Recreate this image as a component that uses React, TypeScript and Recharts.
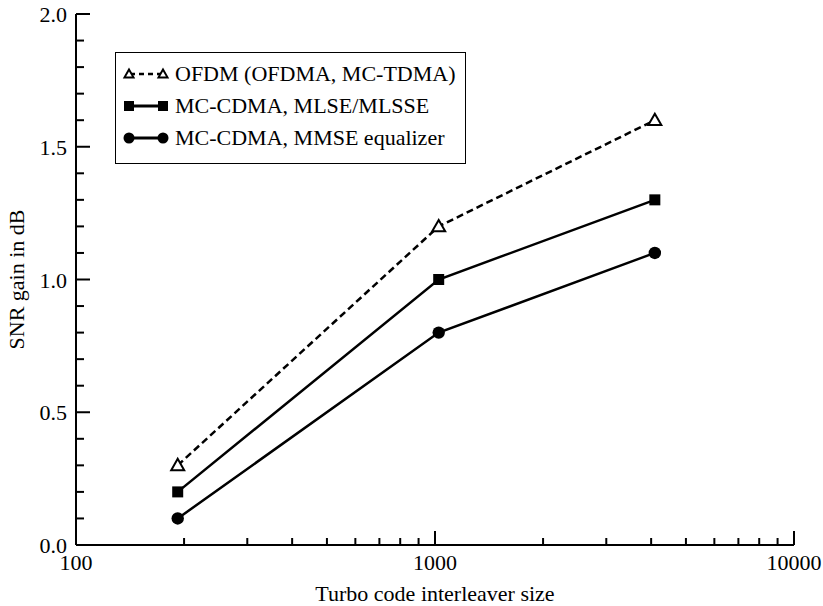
import React from "react";
import { LineChart, Line, XAxis, YAxis, Legend } from "recharts";

// interleaver sizes (x) and SNR gains in dB for each scheme
const sizes = [192, 1024, 4096];
const ofdmGain = [0.3, 1.2, 1.6];
const mlseGain = [0.2, 1.0, 1.3];
const mmseGain = [0.1, 0.8, 1.1];

const seriesNames = [
  "OFDM (OFDMA, MC-TDMA)",
  "MC-CDMA, MLSE/MLSSE",
  "MC-CDMA, MMSE equalizer",
];

const xTicks = [
  100, 200, 300, 400, 500, 600, 700, 800, 900, 1000, 2000, 3000, 4000, 5000,
  6000, 7000, 8000, 9000, 10000,
];
const xMajor = [100, 1000, 10000];
const yTicks = [
  0, 0.1, 0.2, 0.3, 0.4, 0.5, 0.6, 0.7, 0.8, 0.9, 1.0, 1.1, 1.2, 1.3, 1.4, 1.5,
  1.6, 1.7, 1.8, 1.9, 2.0,
];
const yMajor = [0, 0.5, 1.0, 1.5, 2.0];

const data = sizes.map((n, i) => ({
  n,
  ofdm: ofdmGain[i],
  mlse: mlseGain[i],
  mmse: mmseGain[i],
}));

const FONT = "Liberation Serif";
const isYMajor = (v: number) => yMajor.some((m) => Math.abs(m - v) < 1e-6);

const BottomTick = (p: any) => {
  const { x, y, payload } = p;
  const major = xMajor.includes(payload.value);
  return (
    <g>
      <line x1={x} y1={y} x2={x} y2={y - (major ? 14 : 7)} stroke="#000" strokeWidth={2} />
      {major && (
        <text x={x} y={y + 25} textAnchor="middle" fontSize={22} fill="#000" fontFamily={FONT}>
          {payload.value}
        </text>
      )}
    </g>
  );
};

const TopTick = (p: any) => {
  const { x, y, payload } = p;
  const major = xMajor.includes(payload.value);
  return <line x1={x} y1={y} x2={x} y2={y + (major ? 14 : 7)} stroke="#000" strokeWidth={2} />;
};

const LeftTick = (p: any) => {
  const { x, y, payload } = p;
  const major = isYMajor(payload.value);
  return (
    <g>
      <line x1={x} y1={y} x2={x + (major ? 14 : 8)} y2={y} stroke="#000" strokeWidth={2} />
      {major && (
        <text x={x - 9} y={y + 8} textAnchor="end" fontSize={22} fill="#000" fontFamily={FONT}>
          {payload.value.toFixed(1)}
        </text>
      )}
    </g>
  );
};

const RightTick = (p: any) => {
  const { x, y, payload } = p;
  const major = isYMajor(payload.value);
  return <line x1={x} y1={y} x2={x - (major ? 14 : 8)} y2={y} stroke="#000" strokeWidth={2} />;
};

const Triangle = (p: any) => {
  const { cx, cy, s = 6.5 } = p;
  if (cx == null || cy == null) return <g />;
  return (
    <polygon
      points={`${cx},${cy - s} ${cx - s},${cy + s * 0.75} ${cx + s},${cy + s * 0.75}`}
      fill="#fff"
      stroke="#000"
      strokeWidth={2}
      strokeLinejoin="miter"
    />
  );
};

const Square = (p: any) => {
  const { cx, cy, s = 5.5 } = p;
  if (cx == null || cy == null) return <g />;
  return <rect x={cx - s} y={cy - s} width={s * 2} height={s * 2} fill="#000" />;
};

const Dot = (p: any) => {
  const { cx, cy, s = 6.2 } = p;
  if (cx == null || cy == null) return <g />;
  return <circle cx={cx} cy={cy} r={s} fill="#000" />;
};

const xTitle = (p: any) => {
  const { x, y, width } = p.viewBox;
  return (
    <text x={x + width / 2} y={y + 56} textAnchor="middle" fontSize={22} fill="#000" fontFamily={FONT}>
      Turbo code interleaver size
    </text>
  );
};

const yTitle = (p: any) => {
  const { x, y, height } = p.viewBox;
  const cx = x + 24;
  const cy = y + height / 2;
  return (
    <text
      x={cx}
      y={cy}
      transform={`rotate(-90, ${cx}, ${cy})`}
      textAnchor="middle"
      fontSize={22}
      fill="#000"
      fontFamily={FONT}
    >
      SNR gain in dB
    </text>
  );
};

const LegendBox = () => {
  const icons = [
    (a: number) => <Triangle cx={a} cy={16} s={4.5} />,
    (a: number) => <Square cx={a} cy={16} s={5} />,
    (a: number) => <Dot cx={a} cy={16} s={5.5} />,
  ];
  return (
    <div
      style={{
        width: 351,
        height: 112,
        boxSizing: "border-box",
        border: "1.5px solid #000",
        background: "#fff",
        paddingTop: 5,
      }}
    >
      {seriesNames.map((name, i) => (
        <div key={name} style={{ display: "flex", alignItems: "center", height: 32 }}>
          <svg width={59} height={32} style={{ flex: "none" }}>
            <line
              x1={14}
              y1={16}
              x2={47}
              y2={16}
              stroke="#000"
              strokeWidth={i === 0 ? 2.5 : 3}
              strokeDasharray={i === 0 ? "5 4" : undefined}
            />
            {icons[i](13)}
            {icons[i](47)}
          </svg>
          <span
            style={{
              fontFamily: FONT,
              fontSize: 22,
              lineHeight: "32px",
              color: "#000",
              whiteSpace: "nowrap",
            }}
          >
            {name}
          </span>
        </div>
      ))}
    </div>
  );
};

export default function App() {
  return (
    <div style={{ position: "absolute", left: 0, top: 0, background: "#fff", fontFamily: FONT }}>
      <LineChart
        width={823}
        height={606}
        data={data}
        margin={{ top: 14, right: 29, bottom: 0, left: 0 }}
      >
        <XAxis
          xAxisId="b"
          dataKey="n"
          type="number"
          scale="log"
          domain={[100, 10000]}
          allowDataOverflow
          ticks={xTicks}
          interval={0}
          tickSize={0}
          tickMargin={0}
          tick={BottomTick}
          axisLine={{ stroke: "#000", strokeWidth: 2 }}
          height={61}
          label={xTitle}
        />
        <XAxis
          xAxisId="t"
          orientation="top"
          type="number"
          scale="log"
          domain={[100, 10000]}
          allowDataOverflow
          ticks={xTicks}
          interval={0}
          tickSize={0}
          tickMargin={0}
          tick={TopTick}
          axisLine={{ stroke: "#000", strokeWidth: 2 }}
          height={0}
        />
        <YAxis
          yAxisId="l"
          type="number"
          domain={[0, 2]}
          allowDataOverflow
          ticks={yTicks}
          interval={0}
          tickSize={0}
          tickMargin={0}
          tick={LeftTick}
          axisLine={{ stroke: "#000", strokeWidth: 2 }}
          width={76}
          label={yTitle}
        />
        <YAxis
          yAxisId="r"
          orientation="right"
          type="number"
          domain={[0, 2]}
          allowDataOverflow
          ticks={yTicks}
          interval={0}
          tickSize={0}
          tickMargin={0}
          tick={RightTick}
          axisLine={{ stroke: "#000", strokeWidth: 2 }}
          width={0}
        />
        <Legend
          content={LegendBox}
          layout="vertical"
          verticalAlign="middle"
          align="center"
          wrapperStyle={{ left: 115, top: 52, width: 351, height: 112 }}
        />
        <Line
          xAxisId="b"
          yAxisId="l"
          dataKey="ofdm"
          name={seriesNames[0]}
          type="linear"
          stroke="#000"
          strokeWidth={2.5}
          strokeDasharray="7 4"
          dot={Triangle}
          activeDot={false}
          isAnimationActive={false}
        />
        <Line
          xAxisId="b"
          yAxisId="l"
          dataKey="mlse"
          name={seriesNames[1]}
          type="linear"
          stroke="#000"
          strokeWidth={2.5}
          dot={Square}
          activeDot={false}
          isAnimationActive={false}
        />
        <Line
          xAxisId="b"
          yAxisId="l"
          dataKey="mmse"
          name={seriesNames[2]}
          type="linear"
          stroke="#000"
          strokeWidth={2.5}
          dot={Dot}
          activeDot={false}
          isAnimationActive={false}
        />
      </LineChart>
    </div>
  );
}
